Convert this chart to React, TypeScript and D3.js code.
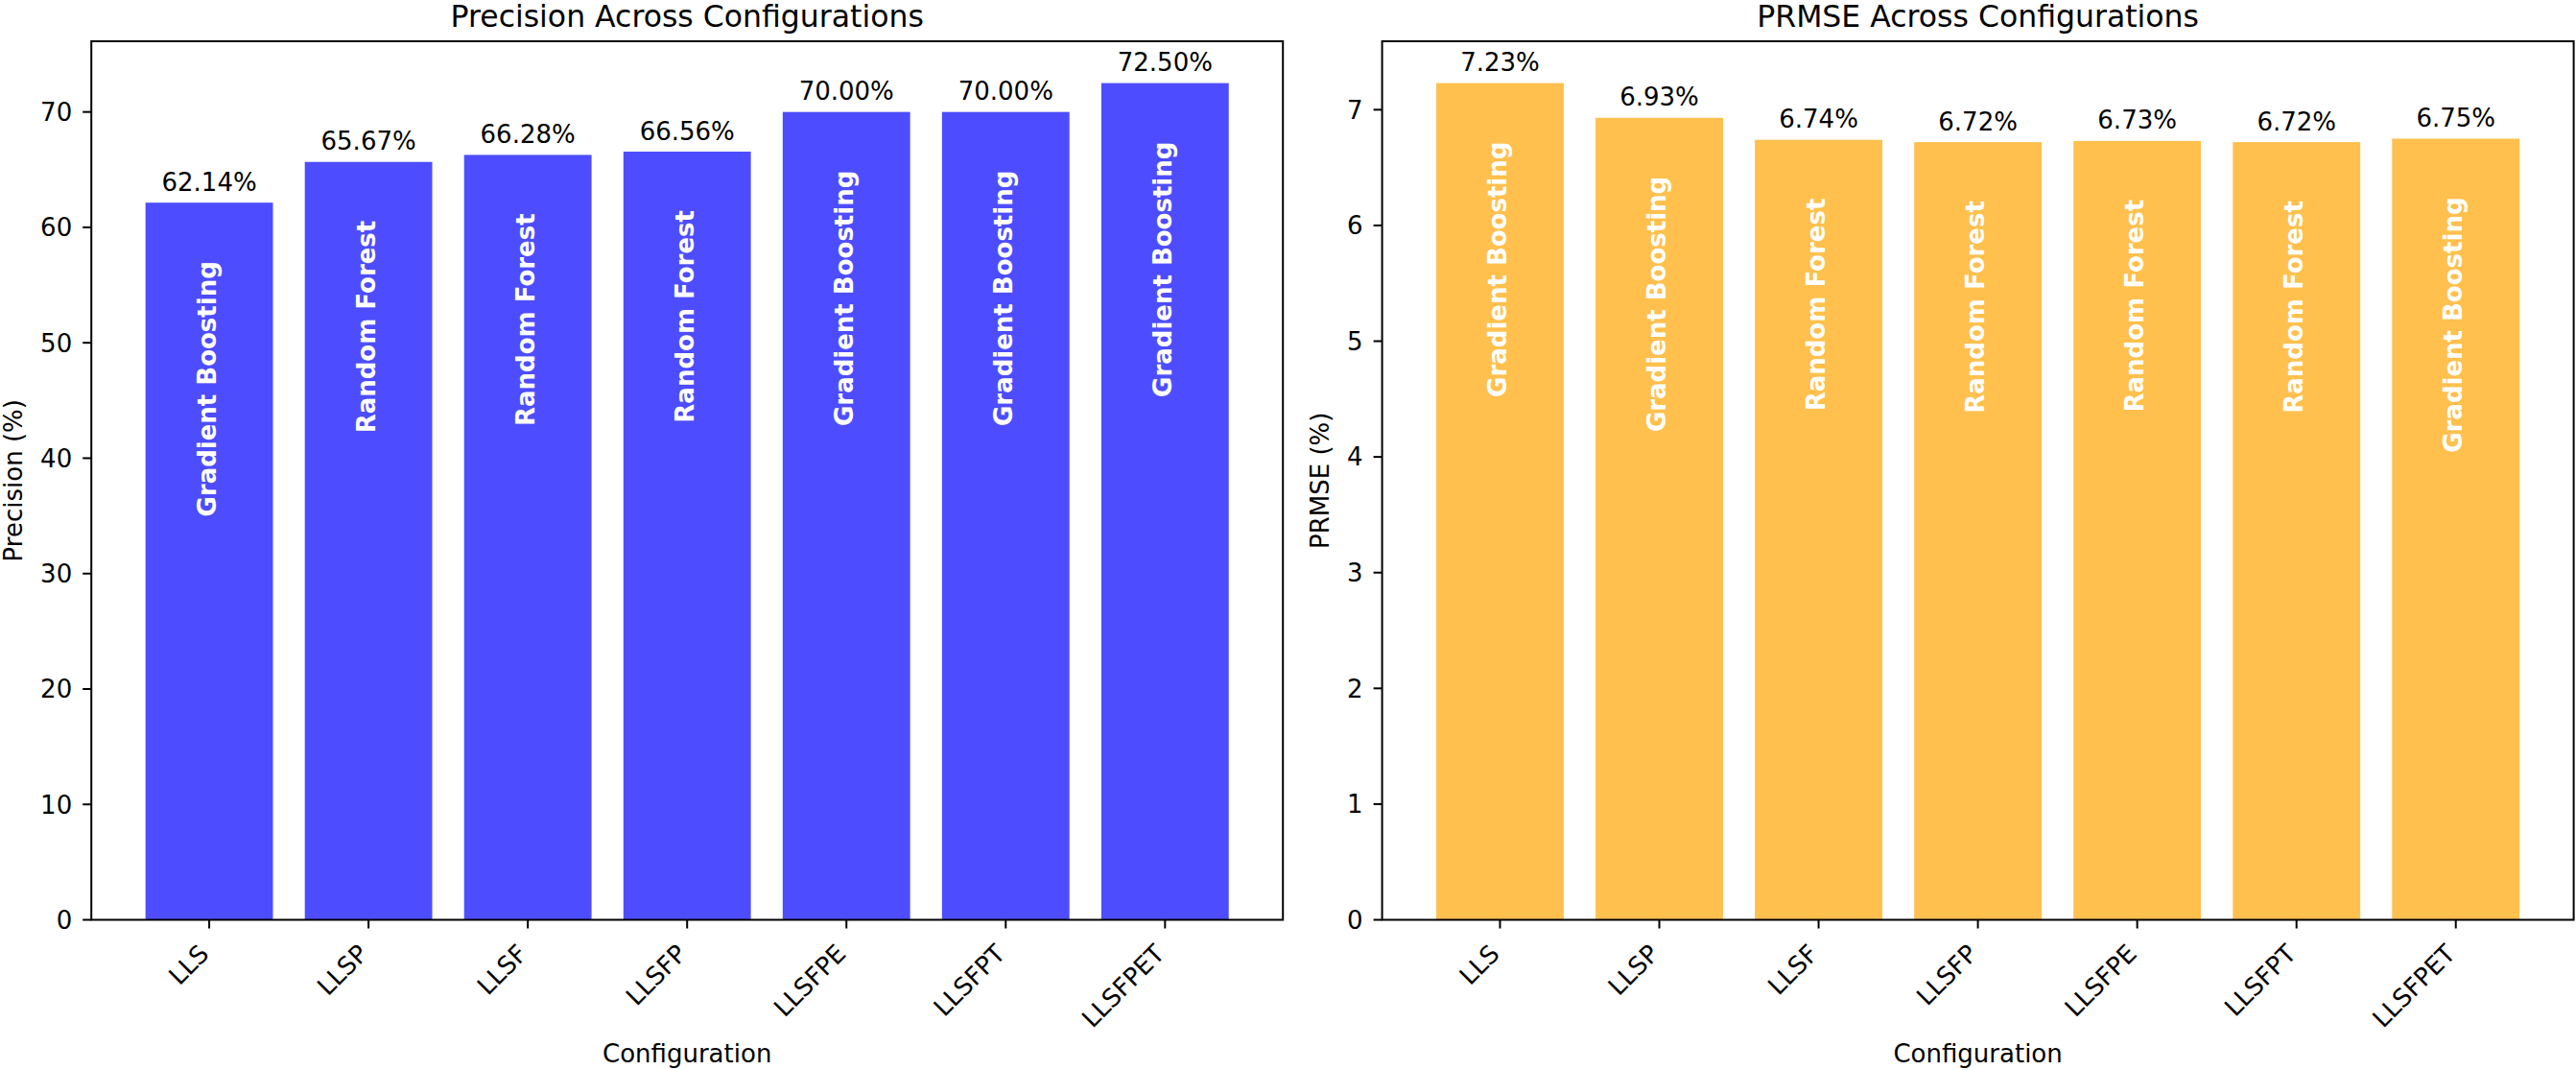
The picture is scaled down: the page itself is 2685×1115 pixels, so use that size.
import React from 'react';
import * as d3 from 'd3';

const configs = ['LLS', 'LLSP', 'LLSF', 'LLSFP', 'LLSFPE', 'LLSFPT', 'LLSFPET'];

const precision = [62.14, 65.67, 66.28, 66.56, 70.0, 70.0, 72.5];
const precisionModels = [
  'Gradient Boosting',
  'Random Forest',
  'Random Forest',
  'Random Forest',
  'Gradient Boosting',
  'Gradient Boosting',
  'Gradient Boosting',
];

const prmse = [7.23, 6.93, 6.74, 6.72, 6.73, 6.72, 6.75];
const prmseModels = [
  'Gradient Boosting',
  'Gradient Boosting',
  'Random Forest',
  'Random Forest',
  'Random Forest',
  'Random Forest',
  'Gradient Boosting',
];

const precisionTicks = [0, 10, 20, 30, 40, 50, 60, 70];
const prmseTicks = [0, 1, 2, 3, 4, 5, 6, 7];

const WIDTH = 2685;
const HEIGHT = 1115;
const FONT = '"DejaVu Sans", sans-serif';

interface PanelProps {
  x0: number;
  x1: number;
  values: number[];
  models: string[];
  ticks: number[];
  color: string;
  title: string;
  yLabel: string;
  yLabelOffset: number;
}

const top = 43;
const bottom = 958.5;

const Panel: React.FC<PanelProps> = ({ x0, x1, values, models, ticks, color, title, yLabel, yLabelOffset }) => {
  // matplotlib style: bar width 0.8, 5% margins on x, 5% headroom on y
  const x = d3.scaleBand<string>().domain(configs).range([x0, x1]).paddingInner(0.2).paddingOuter(0.34);
  const y = d3
    .scaleLinear()
    .domain([0, d3.max(values)! * 1.05])
    .range([bottom, top]);
  const cx = (x0 + x1) / 2;
  const cy = (top + bottom) / 2;

  return (
    <g fontFamily={FONT}>
      {values.map((v, i) => {
        const bx = x(configs[i])!;
        const bw = x.bandwidth();
        const mid = bx + bw / 2;
        return (
          <g key={configs[i]}>
            <rect x={bx} y={y(v)} width={bw} height={y(0) - y(v)} fill={color} />
            <text x={mid} y={y(v) - 12.5} textAnchor="middle" fontSize={26} fill="#000">
              {`${v.toFixed(2)}%`}
            </text>
            <text
              transform={`translate(${mid},${y(v) + 61}) rotate(-90)`}
              textAnchor="end"
              dy="0.25em"
              fontSize={26}
              fontWeight="bold"
              fill="#fff"
            >
              {models[i]}
            </text>
          </g>
        );
      })}

      {/* frame */}
      <rect x={x0} y={top} width={x1 - x0} height={bottom - top} fill="none" stroke="#000" strokeWidth={2} />

      {/* y ticks */}
      {ticks.map((t) => (
        <g key={t}>
          <line x1={x0 - 9} x2={x0} y1={y(t)} y2={y(t)} stroke="#000" strokeWidth={2} />
          <text x={x0 - 20} y={y(t)} dy="0.36em" textAnchor="end" fontSize={26}>
            {t}
          </text>
        </g>
      ))}

      {/* x ticks */}
      {configs.map((c) => {
        const tx = x(c)! + x.bandwidth() / 2;
        return (
          <g key={c}>
            <line x1={tx} x2={tx} y1={bottom} y2={bottom + 9} stroke="#000" strokeWidth={2} />
            <text transform={`translate(${tx + 1},${bottom + 37}) rotate(-45)`} textAnchor="end" fontSize={26}>
              {c}
            </text>
          </g>
        );
      })}

      <text x={cx} y={28} textAnchor="middle" fontSize={31.5}>
        {title}
      </text>
      <text x={cx} y={1107} textAnchor="middle" fontSize={26}>
        Configuration
      </text>
      <text transform={`translate(${x0 - yLabelOffset},${cy}) rotate(-90)`} textAnchor="middle" fontSize={26}>
        {yLabel}
      </text>
    </g>
  );
};

export default function App() {
  return (
    <svg
      width={WIDTH}
      height={HEIGHT}
      style={{ position: 'absolute', left: 0, top: 0, background: '#fff', display: 'block' }}
    >
      <rect width={WIDTH} height={HEIGHT} fill="#fff" />
      <Panel
        x0={95.2}
        x1={1337.2}
        values={precision}
        models={precisionModels}
        ticks={precisionTicks}
        color="#4d4dff"
        title="Precision Across Configurations"
        yLabel="Precision (%)"
        yLabelOffset={72}
      />
      <Panel
        x0={1440.6}
        x1={2682.6}
        values={prmse}
        models={prmseModels}
        ticks={prmseTicks}
        color="#ffc04d"
        title="PRMSE Across Configurations"
        yLabel="PRMSE (%)"
        yLabelOffset={56}
      />
    </svg>
  );
}
